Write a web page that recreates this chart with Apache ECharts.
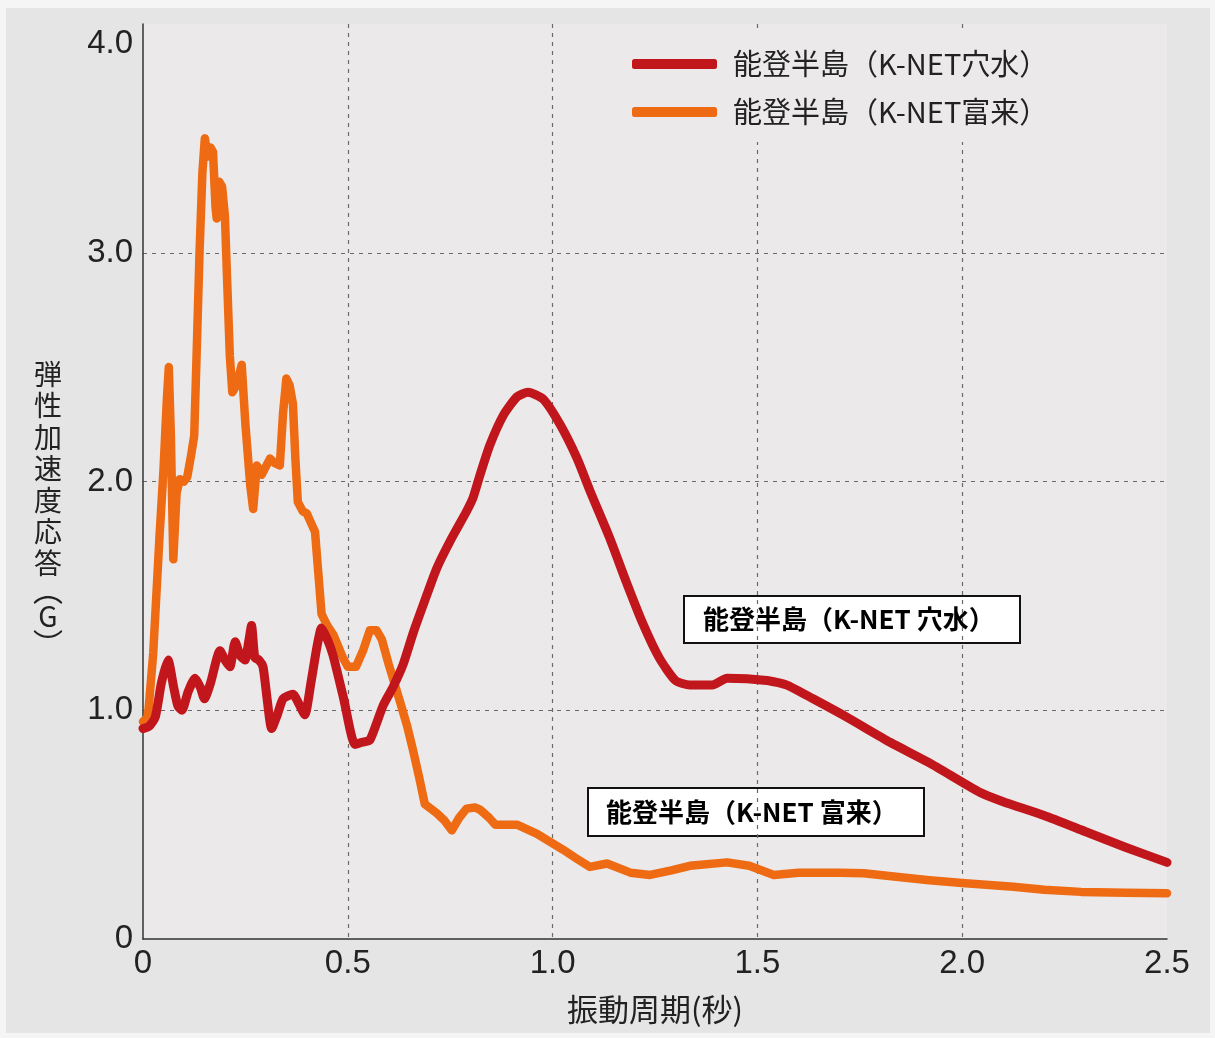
<!DOCTYPE html>
<html><head><meta charset="utf-8">
<script src="https://cdn.jsdelivr.net/npm/echarts@6/dist/echarts.min.js"></script>
<style>html,body{margin:0;padding:0;background:#f5f5f5;}#c{width:1215px;height:1038px;}</style>
</head><body><div id="c"></div>
<script>
// ---- data (period in s, elastic acceleration response in G) ----
const seriesNames = ['能登半島（K-NET穴水）', '能登半島（K-NET富来）'];
const annotationTexts = ['能登半島（K-NET 穴水）', '能登半島（K-NET 富来）'];
const xTickLabels = ['0', '0.5', '1.0', '1.5', '2.0', '2.5'];
const yTickLabels = ['0', '1.0', '2.0', '3.0', '4.0'];

const anamizuX = [0,0.015,0.03,0.045,0.061,0.075,0.085,0.095,0.11,0.127,0.14,0.15,0.165,0.188,0.2,0.212,0.225,0.237,0.249,0.258,0.265,0.273,0.283,0.293,0.303,0.314,0.328,0.342,0.366,0.38,0.395,0.41,0.425,0.436,0.45,0.464,0.49,0.518,0.535,0.554,0.586,0.61,0.635,0.66,0.684,0.717,0.75,0.79,0.806,0.823,0.847,0.88,0.913,0.94,0.977,1.018,1.06,1.091,1.14,1.18,1.22,1.26,1.30,1.335,1.39,1.426,1.523,1.572,1.636,1.718,1.824,1.92,2.044,2.1,2.2,2.3,2.4,2.5];
const anamizuY = [0.92,0.93,0.97,1.12,1.22,1.10,1.02,1.00,1.08,1.14,1.10,1.05,1.12,1.26,1.22,1.19,1.30,1.24,1.22,1.30,1.37,1.23,1.22,1.19,1.05,0.92,0.98,1.05,1.07,1.03,0.98,1.12,1.28,1.36,1.31,1.24,1.05,0.85,0.86,0.87,1.02,1.10,1.20,1.34,1.46,1.62,1.74,1.87,1.93,2.03,2.16,2.29,2.37,2.39,2.36,2.25,2.10,1.96,1.75,1.56,1.38,1.23,1.13,1.11,1.11,1.14,1.13,1.11,1.05,0.97,0.86,0.77,0.64,0.60,0.54,0.47,0.40,0.335];

const fukuraX = [0,0.012,0.025,0.04,0.05,0.058,0.063,0.068,0.074,0.082,0.09,0.1,0.108,0.118,0.125,0.13,0.138,0.145,0.151,0.158,0.165,0.171,0.177,0.18,0.186,0.193,0.2,0.205,0.212,0.218,0.228,0.241,0.25,0.262,0.269,0.278,0.29,0.31,0.322,0.334,0.342,0.35,0.358,0.366,0.372,0.378,0.39,0.40,0.41,0.42,0.428,0.436,0.45,0.465,0.488,0.50,0.52,0.537,0.554,0.57,0.583,0.6,0.627,0.645,0.66,0.675,0.688,0.717,0.735,0.754,0.772,0.79,0.81,0.823,0.845,0.86,0.913,0.962,1.026,1.06,1.091,1.133,1.19,1.238,1.29,1.335,1.426,1.48,1.54,1.6,1.7,1.76,1.85,1.92,2.0,2.125,2.2,2.29,2.4,2.5];
const fukuraY = [0.95,0.97,1.25,1.75,2.05,2.35,2.50,2.20,1.66,1.95,2.01,2.00,2.02,2.12,2.20,2.50,3.00,3.35,3.50,3.42,3.46,3.44,3.20,3.15,3.31,3.29,3.16,2.90,2.55,2.39,2.42,2.51,2.25,1.98,1.88,2.07,2.03,2.10,2.08,2.07,2.30,2.45,2.42,2.34,2.10,1.91,1.87,1.86,1.82,1.78,1.60,1.42,1.37,1.33,1.23,1.19,1.19,1.26,1.35,1.35,1.31,1.20,1.04,0.93,0.82,0.70,0.59,0.55,0.52,0.475,0.53,0.57,0.575,0.565,0.53,0.50,0.50,0.46,0.39,0.35,0.315,0.33,0.29,0.28,0.30,0.32,0.335,0.32,0.28,0.29,0.29,0.287,0.27,0.257,0.245,0.228,0.215,0.206,0.202,0.20];

const pairs = (xs, ys) => xs.map((x, i) => [x, ys[i]]);

const chart = echarts.init(document.getElementById('c'), null, {renderer: 'canvas'});
const tickFont = '"Liberation Sans", Arial, sans-serif';
const cjk = '"Noto Sans CJK JP", "Noto Sans", sans-serif';

const yNameChars = ['弾','性','加','速','度','応','答'];
const yName = yNameChars.map(c => '{a|' + c + '}').join('\n') + '\n{p|︵}\n{a|G}\n{p|︶}';

function annotation(left, top, w, h, text, padLeft) {
  return {
    type: 'group', left: left, top: top, z: 50,
    children: [
      {type: 'rect', shape: {x: 0, y: 0, width: w, height: h},
       style: {fill: '#ffffff', stroke: '#111111', lineWidth: 2}},
      {type: 'text', x: padLeft, y: h / 2,
       style: {text: text, fontSize: 26, fontWeight: 'bold', fontFamily: cjk,
               fill: '#000', verticalAlign: 'middle', align: 'left'}}
    ]
  };
}

chart.setOption({
  backgroundColor: '#f5f5f5',
  animation: false,
  graphic: [
    {type: 'rect', left: 6, top: 8, z: -10, silent: true,
     shape: {width: 1204, height: 1025}, style: {fill: '#e5e5e5'}},
    annotation(683, 595, 336, 47, annotationTexts[0], 19),
    annotation(587, 787, 336, 48, annotationTexts[1], 18)
  ],
  grid: {left: 143, right: 48, top: 24, bottom: 99, show: true,
         backgroundColor: '#ebe9ea', borderWidth: 0},
  legend: {
    orient: 'vertical', left: 620, top: 30,
    padding: [19, 30, 15, 12],
    backgroundColor: '#ebe9ea',
    itemWidth: 85, itemHeight: 10, itemGap: 18,
    icon: 'roundRect',
    textStyle: {fontSize: 29, fontFamily: cjk, color: '#222', lineHeight: 30,
                padding: [0, 0, 0, 11]},
    data: seriesNames
  },
  xAxis: {
    type: 'value', min: 0, max: 2.5, interval: 0.5,
    name: '振動周期(秒)', nameLocation: 'middle', nameGap: 55,
    nameTextStyle: {fontSize: 31, fontFamily: cjk, color: '#222'},
    axisLine: {show: true, onZero: false, lineStyle: {color: '#333', width: 1.5}},
    axisTick: {show: false},
    axisLabel: {fontSize: 33, fontFamily: tickFont, color: '#222', margin: 8,
                formatter: v => xTickLabels[Math.round(v / 0.5)]},
    splitLine: {show: true, showMinLine: false, showMaxLine: false,
                lineStyle: {type: [4, 5], color: '#6a6a6a', width: 1.2}}
  },
  yAxis: {
    type: 'value', min: 0, max: 4, interval: 1,
    name: yName, nameLocation: 'middle', nameGap: 95, nameRotate: 0,
    nameTextStyle: {
      align: 'center', verticalAlign: 'middle', padding: [50, 0, 0, 0],
      rich: {
        a: {fontSize: 28, fontFamily: cjk, color: '#222', lineHeight: 31.5, align: 'center'},
        p: {fontSize: 30, fontFamily: cjk, color: '#222', lineHeight: 22, align: 'center'}
      }
    },
    axisLine: {show: true, lineStyle: {color: '#333', width: 1.5}},
    axisTick: {show: false},
    axisLabel: {
      fontSize: 33, fontFamily: tickFont, color: '#222', margin: 10,
      formatter: v => v === 4 ? '{t|' + yTickLabels[4] + '}' : yTickLabels[Math.round(v)],
      rich: {t: {fontSize: 33, fontFamily: tickFont, color: '#222', padding: [40, 0, 0, 0]}}
    },
    splitLine: {show: true, showMinLine: false, showMaxLine: false,
                lineStyle: {type: [4, 5], color: '#6a6a6a', width: 1.2}}
  },
  series: [
    {name: seriesNames[0], type: 'line', data: pairs(anamizuX, anamizuY),
     showSymbol: false, symbol: 'none', z: 3, smooth: 0.2,
     itemStyle: {color: '#c1161c'},
     lineStyle: {color: '#c1161c', width: 9, cap: 'round', join: 'round'}},
    {name: seriesNames[1], type: 'line', data: pairs(fukuraX, fukuraY),
     showSymbol: false, symbol: 'none', z: 2,
     itemStyle: {color: '#ee6b14'},
     lineStyle: {color: '#ee6b14', width: 8.5, cap: 'round', join: 'round'}}
  ]
});
</script></body></html>
